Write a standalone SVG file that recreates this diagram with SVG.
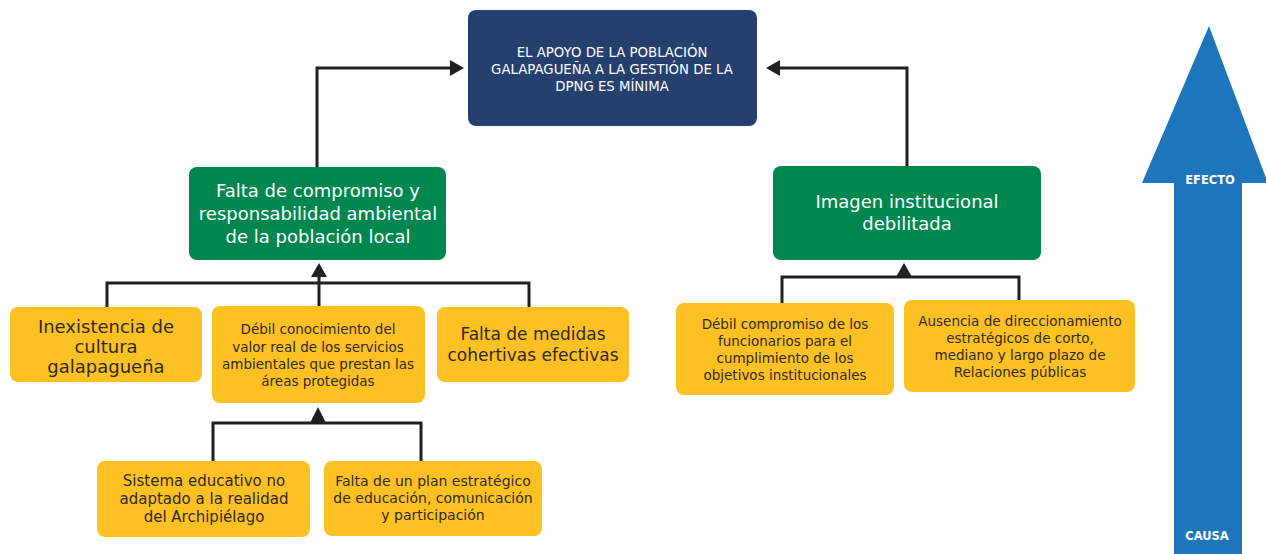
<svg xmlns="http://www.w3.org/2000/svg" width="1266" height="554" viewBox="0 0 1266 554">
<style>
.y{fill:#FDC124}
.g{fill:#00874F}
.t{font-family:"DejaVu Sans","Liberation Sans",Arial,sans-serif;text-anchor:middle;fill:#2f2a1f}
.w{font-family:"DejaVu Sans","Liberation Sans",Arial,sans-serif;text-anchor:middle;fill:#ffffff}
.c{fill:none;stroke:#231F20;stroke-width:3}
.h{fill:#231F20}
</style>
<rect width="1266" height="554" fill="#ffffff"/>
<g id="connectors">
<path class="c" d="M317 167V68H452"/>
<polygon class="h" points="464,68 450,60 450,76"/>
<path class="c" d="M907 166V68H778"/>
<polygon class="h" points="766,68 780,60 780,76"/>
<path class="c" d="M107 307V283H529V307M319 306V270"/>
<polygon class="h" points="319,263 311,277 327,277"/>
<path class="c" d="M213 461V423H421V461"/>
<polygon class="h" points="318,407 310,423 326,423"/>
<path class="c" d="M782 303V277H1019V300"/>
<polygon class="h" points="904,263 896,277 912,277"/>
</g>
<g id="arrow">
<polygon points="1209,26 1142,183 1174,183 1174,554 1242,554 1242,183 1266,183 1266,178" fill="#1D75BC"/>
<text x="1210" y="184" class="w" font-size="11.5" font-weight="bold">EFECTO</text>
<text x="1207" y="540" class="w" font-size="11.5" font-weight="bold">CAUSA</text>
</g>
<g id="top">
<rect x="468" y="10" width="289" height="116" rx="8" fill="#25406F"/>
<text class="w" font-size="13.3"><tspan x="612" y="57">EL APOYO DE LA POBLACIÓN</tspan><tspan x="612" y="74">GALAPAGUEÑA A LA GESTIÓN DE LA</tspan><tspan x="612" y="91">DPNG ES MÍNIMA</tspan></text>
</g>
<g id="g1">
<rect x="189" y="167" width="257" height="93" rx="8" class="g"/>
<text class="w" font-size="18"><tspan x="318" y="197">Falta de compromiso y</tspan><tspan x="318" y="220">responsabilidad ambiental</tspan><tspan x="318" y="243">de la población local</tspan></text>
</g>
<g id="g2">
<rect x="773" y="166" width="268" height="94" rx="8" class="g"/>
<text class="w" font-size="18"><tspan x="907" y="208">Imagen institucional</tspan><tspan x="907" y="230">debilitada</tspan></text>
</g>
<g id="y1">
<rect x="10" y="307" width="192" height="75" rx="8" class="y"/>
<text class="t" font-size="18"><tspan x="106" y="333">Inexistencia de</tspan><tspan x="106" y="353">cultura</tspan><tspan x="106" y="373">galapagueña</tspan></text>
</g>
<g id="y2">
<rect x="212" y="306" width="213" height="97" rx="8" class="y"/>
<text class="t" font-size="13.5"><tspan x="318" y="334">Débil conocimiento del</tspan><tspan x="318" y="352">valor real de los servicios</tspan><tspan x="318" y="369">ambientales que prestan las</tspan><tspan x="318" y="386">áreas protegidas</tspan></text>
</g>
<g id="y3">
<rect x="437" y="307" width="192" height="75" rx="8" class="y"/>
<text class="t" font-size="17"><tspan x="533" y="340">Falta de medidas</tspan><tspan x="533" y="361">cohertivas efectivas</tspan></text>
</g>
<g id="y4">
<rect x="97" y="461" width="213" height="76" rx="8" class="y"/>
<text class="t" font-size="15"><tspan x="204" y="486">Sistema educativo no</tspan><tspan x="204" y="504">adaptado a la realidad</tspan><tspan x="204" y="522">del Archipiélago</tspan></text>
</g>
<g id="y5">
<rect x="324" y="461" width="218" height="75" rx="8" class="y"/>
<text class="t" font-size="14"><tspan x="433" y="486">Falta de un plan estratégico</tspan><tspan x="433" y="503">de educación, comunicación</tspan><tspan x="433" y="520">y participación</tspan></text>
</g>
<g id="y6">
<rect x="676" y="303" width="218" height="92" rx="8" class="y"/>
<text class="t" font-size="13.5"><tspan x="785" y="329">Débil compromiso de los</tspan><tspan x="785" y="346">funcionarios para el</tspan><tspan x="785" y="363">cumplimiento de los</tspan><tspan x="785" y="380">objetivos institucionales</tspan></text>
</g>
<g id="y7">
<rect x="904" y="300" width="231" height="92" rx="8" class="y"/>
<text class="t" font-size="13.5"><tspan x="1020" y="326">Ausencia de direccionamiento</tspan><tspan x="1020" y="343">estratégicos de corto,</tspan><tspan x="1020" y="360">mediano y largo plazo de</tspan><tspan x="1020" y="377">Relaciones públicas</tspan></text>
</g>
</svg>
